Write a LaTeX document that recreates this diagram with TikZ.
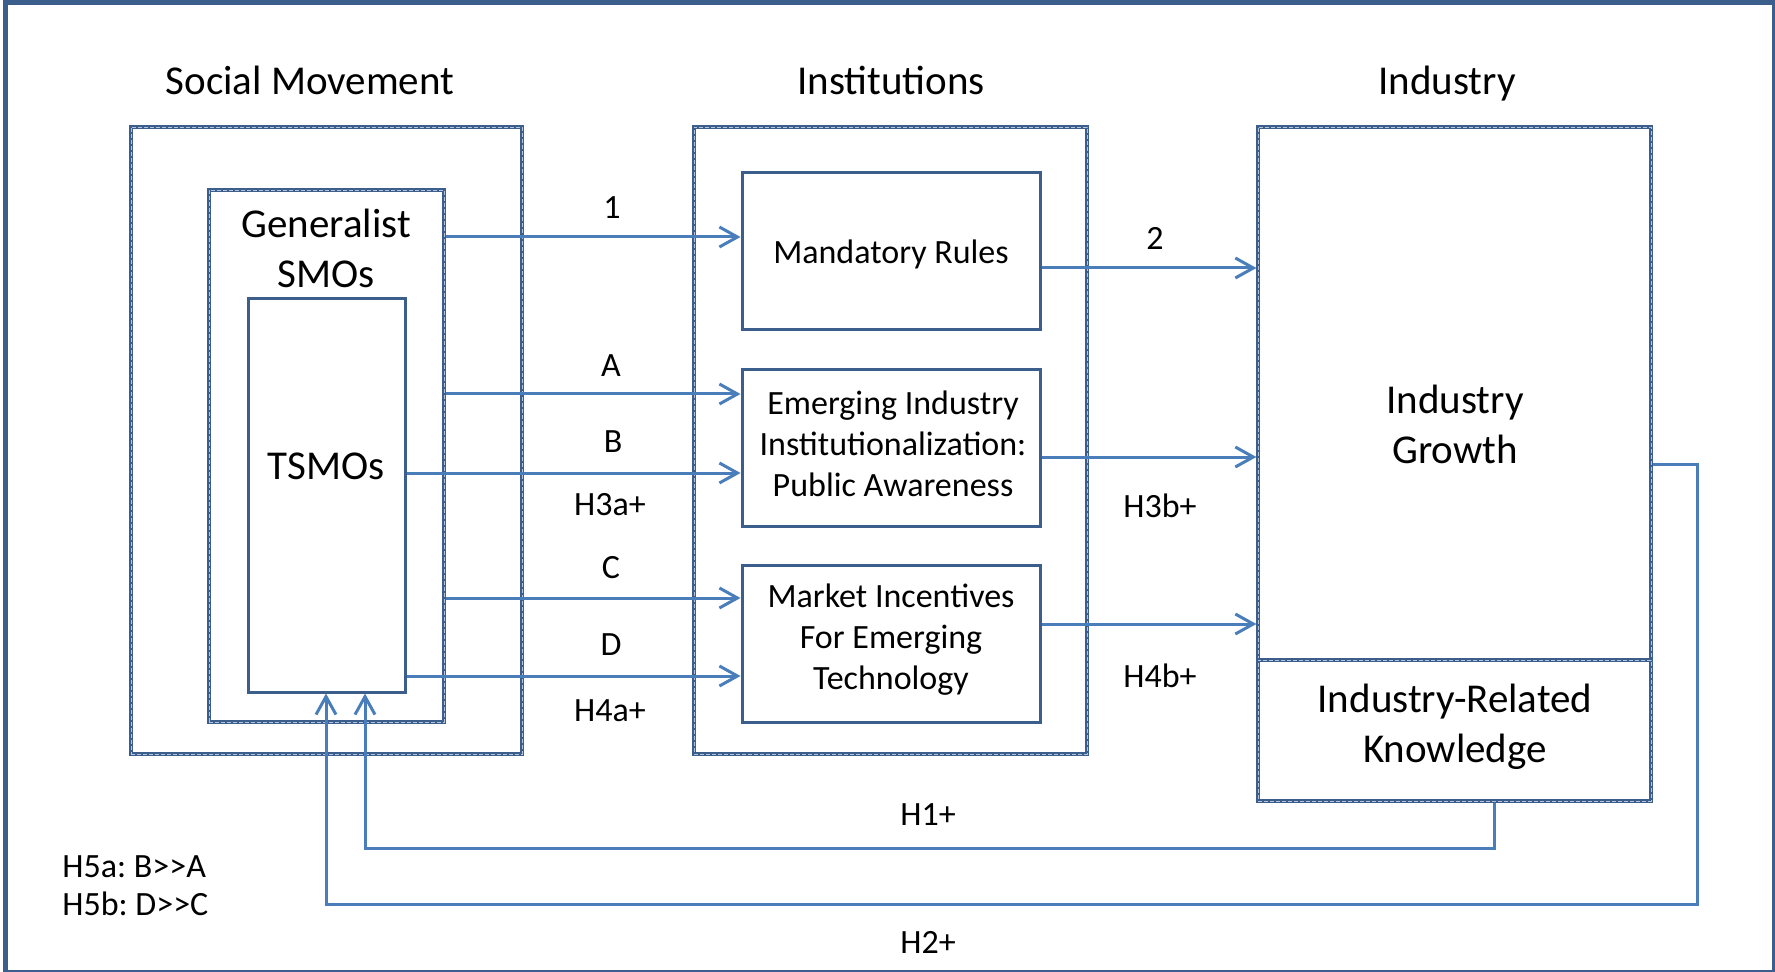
\documentclass[tikz,border=0pt]{standalone}
\usepackage{fontspec}
\setmainfont{Carlito}
\usetikzlibrary{arrows.meta,fit}
\definecolor{boxblue}{HTML}{3B5E8C}
\definecolor{arrblue}{HTML}{4A7EBB}
\definecolor{dashlight}{HTML}{B3C4DC}
\frenchspacing
\begin{document}
\begin{tikzpicture}[x=0.5pt,y=-0.5pt,
  bigtext/.style={font=\fontsize{20.5}{25}\selectfont, align=center, inner sep=0},
  smalltext/.style={font=\fontsize{17}{20.5}\selectfont, align=center, inner sep=0},
  solidbox/.style={draw=boxblue, line width=1.5pt, inner sep=0},
  dotbox/.style={draw=boxblue, line width=1.6pt, inner sep=0, postaction={draw=dashlight, line width=0.45pt, dash pattern=on 2pt off 1pt}},
  arr/.style={draw=arrblue, line width=1.5pt, -{Straight Barb[length=9pt,width=10pt,line width=1.5pt]}},
]
\useasboundingbox (0,0) rectangle (1775,972);
% outer frame
\draw[draw=boxblue, line width=2.5pt] (5,2.5) rectangle (1774.5,972.5);

% titles
\node[bigtext, anchor=base] (tsm) at (310,95) {Social Movement};
\node[bigtext, anchor=base] (tins) at (891,95) {Institutions};
\node[bigtext, anchor=base] (tind) at (1447,95) {Industry};

% social movement boxes
\node[dotbox, fit={(131,127)(522,754)}] (sm) {};
\node[dotbox, fit={(209,190)(444,722)}] (gen) {};
\node[solidbox, fit={(248,299)(405,692)}] (tsmo) {};
\node[bigtext] (tgen) at (326,248) {Generalist\\SMOs};
\node[bigtext, anchor=base] (ttsmo) at (326,480) {TSMOs};

% institutions
\node[dotbox, fit={(694,127)(1087,754)}] (ins) {};
\node[solidbox, fit={(742,173)(1040,330)}] (mand) {};
\node[solidbox, fit={(742,370)(1040,526)}] (emer) {};
\node[solidbox, fit={(742,565)(1040,722)}] (mark) {};
\node[smalltext, anchor=base] (tmand) at (891,264) {Mandatory Rules};
\node[smalltext, anchor=base] (temer) at (893,496) {Emerging Industry\\Institutionalization:\\Public Awareness};
\node[smalltext, anchor=base] (tmark) at (891,689) {Market Incentives\\For Emerging\\Technology};

% industry
\node[dotbox, fit={(1258,127)(1651,660)}] (indg) {};
\node[dotbox, fit={(1258,660)(1651,801)}] (indk) {};
\node[bigtext] (tgrowth) at (1455,424) {Industry\\Growth};
\node[bigtext, anchor=base] (tknow) at (1455,762) {Industry-Related\\Knowledge};

% row coordinates
\coordinate (r1) at (0,237);
\coordinate (r2) at (0,268);
\coordinate (rA) at (0,394);
\coordinate (rB) at (0,473);
\coordinate (rH3) at (0,457);
\coordinate (rC) at (0,598);
\coordinate (rD) at (0,676);
\coordinate (rH4) at (0,624);
\coordinate (h1a) at (1494,848);
\coordinate (h1b) at (365,848);
\coordinate (h2a) at (1697,464);
\coordinate (h2b) at (1697,904);
\coordinate (h2c) at (326,904);

% arrows
\draw[arr] (gen.east |- r1) -- (mand.west |- r1);
\draw[arr] (mand.east |- r2) -- (indg.west |- r2);
\draw[arr] (gen.east |- rA) -- (emer.west |- rA);
\draw[arr] (tsmo.east |- rB) -- (emer.west |- rB);
\draw[arr] (emer.east |- rH3) -- (indg.west |- rH3);
\draw[arr] (gen.east |- rC) -- (mark.west |- rC);
\draw[arr] (tsmo.east |- rD) -- (mark.west |- rD);
\draw[arr] (mark.east |- rH4) -- (indg.west |- rH4);
\draw[arr] (indk.south -| h1a) -- (h1a) -- (h1b) -- (tsmo.south -| h1b);
\draw[arr] (indg.east |- h2a) -- (h2a) -- (h2b) -- (h2c) -- (tsmo.south -| h2c);

% labels
\node[smalltext] (l1) at (612,208) {1};
\node[smalltext] (l2) at (1155,238) {2};
\node[smalltext] (lA) at (611,366) {A};
\node[smalltext] (lB) at (613,442) {B};
\node[smalltext] (lH3a) at (610,505) {H3a+};
\node[smalltext] (lH3b) at (1160,506) {H3b+};
\node[smalltext] (lC) at (611,568) {C};
\node[smalltext] (lD) at (611,645) {D};
\node[smalltext] (lH4a) at (610,711) {H4a+};
\node[smalltext] (lH4b) at (1160,676) {H4b+};
\node[smalltext] (lH1) at (928,815) {H1+};
\node[smalltext] (lH2) at (928,942) {H2+};
\node[inner sep=0, anchor=base west, align=left, font=\fontsize{17}{19}\selectfont] (lH5) at (62,915) {H5a: B{>}{>}A\\H5b: D{>}{>}C};
\end{tikzpicture}
\end{document}
